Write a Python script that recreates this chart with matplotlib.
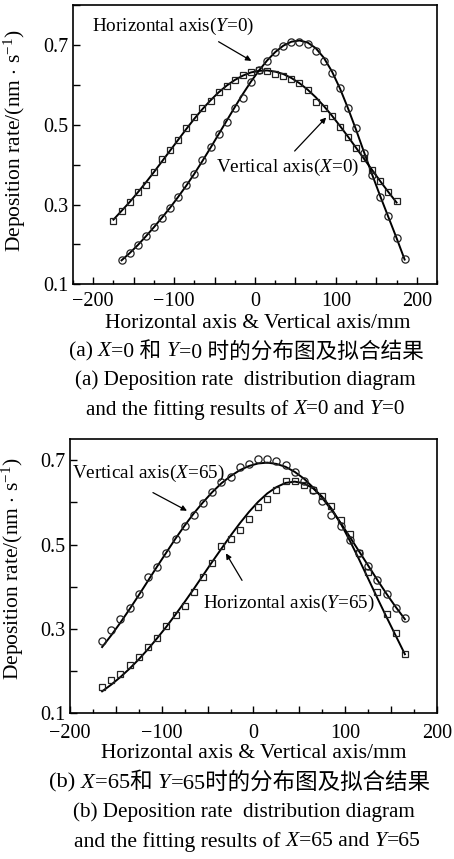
import matplotlib
matplotlib.use('Agg')
import matplotlib.pyplot as plt
from matplotlib.ticker import MultipleLocator, FuncFormatter
from matplotlib.transforms import IdentityTransform

plt.rcParams['font.family'] = ['Liberation Serif', 'Noto Sans CJK SC']
plt.rcParams['mathtext.fontset'] = 'custom'
plt.rcParams['mathtext.rm'] = 'Liberation Serif'
plt.rcParams['mathtext.it'] = 'Liberation Serif:italic'

# (a) horizontal axis, Y=0 (circles)
pos_a_h = [-165, -155, -145, -135, -125, -115, -105, -95, -85, -75, -65, -55,
           -45, -35, -25, -15, -5, 5, 15, 25, 35, 45, 55, 65, 75, 85, 95, 105,
           115, 125, 135, 145, 155, 165, 175, 185]
rate_a_h = [0.161, 0.178, 0.199, 0.222, 0.243, 0.266, 0.290, 0.319, 0.348, 0.377,
            0.411, 0.444, 0.476, 0.508, 0.542, 0.566, 0.608, 0.638, 0.659, 0.683,
            0.697, 0.708, 0.708, 0.703, 0.685, 0.660, 0.630, 0.592, 0.541, 0.491,
            0.430, 0.374, 0.318, 0.271, 0.216, 0.163]
fit_a_h = [0.160, 0.178, 0.198, 0.220, 0.243, 0.267, 0.292, 0.319, 0.347, 0.377,
           0.409, 0.442, 0.476, 0.510, 0.544, 0.577, 0.608, 0.636, 0.661, 0.682,
           0.698, 0.708, 0.711, 0.706, 0.692, 0.668, 0.634, 0.591, 0.541, 0.487,
           0.430, 0.374, 0.320, 0.268, 0.216, 0.162]

# (a) vertical axis, X=0 (squares)
pos_a_v = [-175, -165, -155, -145, -135, -125, -115, -105, -95, -85, -75, -65,
           -55, -45, -35, -25, -15, -5, 5, 15, 25, 35, 45, 55, 65, 75, 85, 95,
           105, 115, 125, 135, 145, 155, 165, 175]
rate_a_v = [0.258, 0.283, 0.307, 0.331, 0.350, 0.382, 0.413, 0.436, 0.461, 0.491,
            0.519, 0.541, 0.560, 0.581, 0.597, 0.613, 0.624, 0.632, 0.638, 0.634,
            0.628, 0.622, 0.614, 0.604, 0.588, 0.557, 0.542, 0.521, 0.495, 0.470,
            0.442, 0.416, 0.387, 0.359, 0.332, 0.308]
fit_a_v = [0.262, 0.284, 0.306, 0.330, 0.355, 0.381, 0.408, 0.435, 0.462, 0.489,
           0.515, 0.539, 0.561, 0.581, 0.598, 0.612, 0.623, 0.631, 0.635, 0.636,
           0.633, 0.627, 0.617, 0.604, 0.588, 0.569, 0.547, 0.523, 0.497, 0.470,
           0.442, 0.414, 0.386, 0.358, 0.331, 0.305]

# (b) both traverses share the same positions
pos_b = [-165, -155, -145, -135, -125, -115, -105, -95, -85, -75, -65, -55,
         -45, -35, -25, -15, -5, 5, 15, 25, 35, 45, 55, 65, 75, 85, 95, 105,
         115, 125, 135, 145, 155, 165]
# vertical axis, X=65 (circles)
rate_b_v = [0.272, 0.298, 0.323, 0.350, 0.383, 0.423, 0.446, 0.480, 0.512, 0.545,
            0.569, 0.599, 0.624, 0.649, 0.661, 0.683, 0.690, 0.702, 0.702, 0.698,
            0.688, 0.671, 0.650, 0.628, 0.602, 0.570, 0.543, 0.511, 0.479, 0.448,
            0.415, 0.382, 0.350, 0.326]
fit_b_v = [0.257, 0.285, 0.315, 0.347, 0.380, 0.414, 0.448, 0.481, 0.514, 0.545,
           0.574, 0.600, 0.624, 0.645, 0.662, 0.676, 0.686, 0.692, 0.694, 0.691,
           0.684, 0.672, 0.656, 0.635, 0.610, 0.582, 0.551, 0.518, 0.484, 0.450,
           0.416, 0.383, 0.352, 0.323]
# horizontal axis, Y=65 (squares)
rate_b_h = [0.163, 0.179, 0.193, 0.214, 0.234, 0.256, 0.279, 0.306, 0.334, 0.354,
            0.387, 0.423, 0.457, 0.497, 0.513, 0.535, 0.561, 0.588, 0.609, 0.628,
            0.650, 0.650, 0.641, 0.629, 0.615, 0.591, 0.558, 0.524, 0.480, 0.435,
            0.387, 0.336, 0.291, 0.240]
fit_b_h = [0.152, 0.168, 0.186, 0.206, 0.228, 0.252, 0.278, 0.305, 0.334, 0.364,
           0.395, 0.427, 0.459, 0.490, 0.521, 0.550, 0.577, 0.601, 0.621, 0.636,
           0.646, 0.649, 0.645, 0.633, 0.613, 0.585, 0.550, 0.509, 0.465, 0.419,
           0.373, 0.328, 0.284, 0.240]

W, H = 454, 859
fig = plt.figure(figsize=(W / 100, H / 100), dpi=100)
ax1 = fig.add_axes([73 / W, 1 - 284.3 / H, 364 / W, 279.3 / H])
ax2 = fig.add_axes([70 / W, 1 - 713.3 / H, 367 / W, 274.3 / H])

TS = 14.5   # tick labels
LS = 15.5   # axis labels
AS = 13.8   # curve labels
CS = 15.2   # captions


def fmt_x(v, p):
    if abs(v % 100) > 1e-6:
        return ''
    return f'{v:.0f}'.replace('-', '\u2212')


def fmt_y(v, p):
    k = round(v * 10)
    return f'{v:.1f}' if k % 2 == 1 else ''


def style_axes(ax, xlim, ylim, xpad):
    ax.set_xlim(*xlim)
    ax.set_ylim(*ylim)
    ax.xaxis.set_major_locator(MultipleLocator(50))
    ax.xaxis.set_minor_locator(MultipleLocator(25))
    ax.xaxis.set_major_formatter(FuncFormatter(fmt_x))
    ax.yaxis.set_major_locator(MultipleLocator(0.1))
    ax.yaxis.set_major_formatter(FuncFormatter(fmt_y))
    ax.tick_params(which='both', direction='in', top=False, right=False,
                   labelsize=TS, width=1.0)
    ax.tick_params(which='major', length=5)
    ax.tick_params(which='minor', length=3)
    ax.tick_params(axis='x', which='major', pad=xpad)
    ax.tick_params(axis='y', which='major', pad=3)
    for sp in ax.spines.values():
        sp.set_linewidth(1.2)
    ax.set_xlabel('Horizontal axis & Vertical axis/mm', fontsize=LS)
    ax.set_ylabel('Deposition rate/(nm $\\cdot$ s$^{-1}$)', fontsize=LS)


def draw_series(ax, pos, rate, fit, marker, ms):
    ax.plot(pos, fit, color='black', lw=1.4, zorder=2)
    ax.plot(pos, rate, ls='none', marker=marker, ms=ms, mfc='none',
            mec='#222222', mew=0.9, zorder=3)


# panel (a)
draw_series(ax1, pos_a_h, rate_a_h, fit_a_h, 'o', 5.2)
draw_series(ax1, pos_a_v, rate_a_v, fit_a_v, 's', 4.6)
style_axes(ax1, (-225, 225), (0.1, 0.8), 5.5)
ax1.xaxis.set_label_coords(0.508, -0.105)
ax1.yaxis.set_label_coords(-0.124, 0.514)
ax1.text(-202, 0.746, 'Horizontal axis($Y$=0)', fontsize=AS, va='center')
ax1.text(-48.7, 0.393, 'Vertical axis($X$=0)', fontsize=AS, va='center')
arrow = dict(arrowstyle='-|>', color='black', lw=0.9, mutation_scale=8,
             shrinkA=0, shrinkB=0)
ax1.annotate('', xy=(-4.5, 0.660), xytext=(-45, 0.708), arrowprops=arrow)
ax1.annotate('', xy=(88, 0.518), xytext=(49, 0.434), arrowprops=arrow)

# panel (b)
draw_series(ax2, pos_b, rate_b_v, fit_b_v, 'o', 5.2)
draw_series(ax2, pos_b, rate_b_h, fit_b_h, 's', 4.6)
style_axes(ax2, (-200, 200), (0.1, 0.75), 8)
ax2.xaxis.set_label_coords(0.501, -0.112)
ax2.yaxis.set_label_coords(-0.119, 0.528)
ax2.text(-197.8, 0.668, 'Vertical axis($X$=65)', fontsize=AS, va='center')
ax2.text(-55, 0.361, 'Horizontal axis($Y$=65)', fontsize=AS, va='center')
ax2.annotate('', xy=(-72.5, 0.580), xytext=(-109.6, 0.623), arrowprops=arrow)
ax2.annotate('', xy=(-30, 0.479), xytext=(-12.5, 0.415), arrowprops=arrow)


def rich_line(xc, yc, parts, size):
    # draws text pieces side by side, centred on (xc, yc) in pixels from top-left
    r = fig.canvas.get_renderer()
    items = []
    for s, st in parts:
        t = fig.text(0, 0, s, fontsize=size, style=st, va='center', ha='left',
                     transform=IdentityTransform())
        items.append((t, t.get_window_extent(r).width))
    x = xc - sum(w for _, w in items) / 2
    for t, w in items:
        t.set_position((x, H - yc))
        x += w


rich_line(246, 352, [('(a) ', 'normal'), ('X', 'italic'), ('=0 和 ', 'normal'),
                     ('Y', 'italic'), ('=0 时的分布图及拟合结果', 'normal')], 15.6)
rich_line(245, 380, [('(a) Deposition rate  distribution diagram', 'normal')], CS)
rich_line(245, 410, [('and the fitting results of ', 'normal'), ('X', 'italic'),
                     ('=0 and ', 'normal'), ('Y', 'italic'), ('=0', 'normal')], CS)
rich_line(240, 783, [('(b) ', 'normal'), ('X', 'italic'), ('=65和 ', 'normal'),
                     ('Y', 'italic'), ('=65时的分布图及拟合结果', 'normal')], 16.2)
rich_line(244, 812, [('(b) Deposition rate  distribution diagram', 'normal')], CS)
rich_line(247, 842, [('and the fitting results of ', 'normal'), ('X', 'italic'),
                     ('=65 and ', 'normal'), ('Y', 'italic'), ('=65', 'normal')], 15.6)

fig.savefig('out.png', dpi=100)
